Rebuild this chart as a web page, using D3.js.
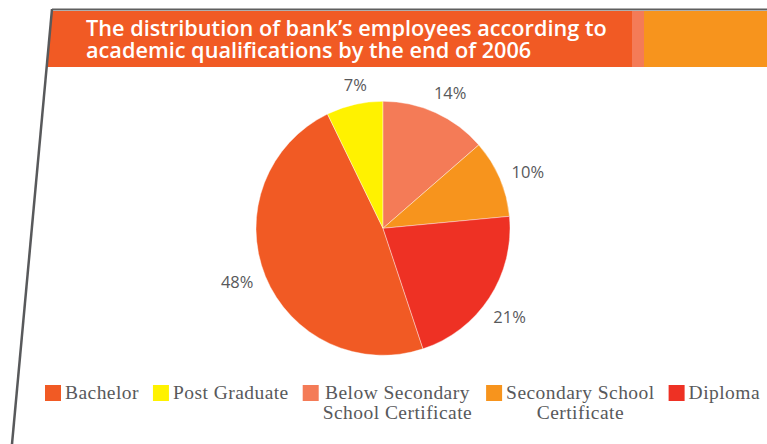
<!DOCTYPE html>
<html lang="en">
<head>
<meta charset="utf-8">
<title>Bank employees by academic qualification</title>
<script src="https://d3js.org/d3.v7.min.js"></script>
<style>
  body { margin: 0; background: #fff; }
  svg { display: block; }
</style>
</head>
<body>
<div id="chart"></div>
<script>
// ---- data (legend order = clockwise order starting at Bachelor) ----
var categories = ["Bachelor", "Post Graduate", "Below Secondary School Certificate", "Secondary School Certificate", "Diploma"];
var legendLines = [["Bachelor"], ["Post Graduate"], ["Below Secondary", "School Certificate"], ["Secondary School", "Certificate"], ["Diploma"]];
var shares = [47.9, 7.2, 13.6, 9.9, 21.4];
var colors = ["#F15A24", "#FFF200", "#F47B57", "#F7941D", "#EE3124"];
var titleLines = ["The distribution of bank\u2019s employees according to", "academic qualifications by the end of 2006"];

var W = 767, H = 444;
var svg = d3.select("#chart").append("svg")
    .attr("width", W)
    .attr("height", H);

// ---- header banner ----
var slope = (52 - 12) / (444 - 9);   // the frame's left edge leans
function edgeX(y) { return 52 - (y - 9) * slope; }

svg.append("polygon")
    .attr("points", [[edgeX(11), 11], [632, 11], [632, 67], [edgeX(67), 67]].join(" "))
    .attr("fill", "#F15A24");
svg.append("rect").attr("x", 632).attr("y", 11).attr("width", 12).attr("height", 56).attr("fill", "#F47B57");
svg.append("rect").attr("x", 644).attr("y", 11).attr("width", W - 644).attr("height", 56).attr("fill", "#F7941D");

// frame lines
svg.append("line")
    .attr("x1", 52).attr("y1", 9.5).attr("x2", W).attr("y2", 9.5)
    .attr("stroke", "#5f5f5f").attr("stroke-width", 2);
svg.append("line")
    .attr("x1", 52).attr("y1", 9).attr("x2", 12).attr("y2", H)
    .attr("stroke", "#58595B").attr("stroke-width", 2.5);

// title text, squeezed horizontally to the banner width
var title = svg.append("g").attr("transform", "translate(86,0)");
var tl = title.selectAll("text")
    .data(titleLines)
  .enter().append("text")
    .attr("x", 0)
    .attr("y", function(d, i) { return 36 + i * 22; })
    .attr("fill", "#fff")
    .style("font-family", "'Open Sans', sans-serif")
    .style("font-weight", 600)
    .style("font-size", "22px")
    .text(function(d) { return d; });
var natural = tl.node().getComputedTextLength();
title.attr("transform", "translate(86,0) scale(" + (521 / natural) + ",1)");

// ---- pie ----
var cx = 383, cy = 228.3, radius = 127;
var total = d3.sum(shares);
var start = -2 * Math.PI * (shares[0] + shares[1]) / total;

var pie = d3.pie()
    .sort(null)
    .value(function(d) { return d; })
    .startAngle(start)
    .endAngle(start + 2 * Math.PI);

var arc = d3.arc().innerRadius(0).outerRadius(radius);

var g = svg.append("g").attr("transform", "translate(" + cx + "," + cy + ")");
var slices = pie(shares);

g.selectAll("path")
    .data(slices)
  .enter().append("path")
    .attr("d", arc)
    .attr("fill", function(d, i) { return colors[i]; })
    .attr("stroke", "#fff")
    .attr("stroke-width", 0.4);

// labels: a touch clockwise of the slice middle, box kept ~11px off the rim
var nudge = 2 * Math.PI / 180, labelGap = 11;
var pct = g.selectAll("text.pct")
    .data(slices)
  .enter().append("text")
    .attr("class", "pct")
    .attr("text-anchor", "middle")
    .attr("dy", "0.36em")
    .attr("fill", "#58595B")
    .style("font-family", "'Open Sans', sans-serif")
    .style("font-size", "16.5px")
    .text(function(d) { return Math.round(d.value) + "%"; });

pct.attr("transform", function(d) {
  var a = (d.startAngle + d.endAngle) / 2 + nudge;
  var w = this.getComputedTextLength(), h = 12;
  var s = Math.sin(a), c = Math.cos(a);
  var dist = radius + labelGap + Math.abs(s) * w / 2 + Math.abs(c) * h / 2;
  return "translate(" + (dist * s) + "," + (-dist * c) + ")";
});

// ---- legend ----
var legendLeft = 45, legendRight = 760, box = 16, pad = 4, boxTop = 385;
var legend = svg.append("g");
var items = legend.selectAll("g.item")
    .data(categories)
  .enter().append("g")
    .attr("class", "item");

items.append("rect")
    .attr("width", box).attr("height", box)
    .attr("y", boxTop)
    .attr("fill", function(d, i) { return colors[i]; });

var labels = items.append("text")
    .attr("fill", "#58595B")
    .style("font-family", "'Liberation Serif', 'Times New Roman', serif")
    .style("font-size", "19.5px")
    .style("letter-spacing", "0.45px");

labels.selectAll("tspan")
    .data(function(d, i) { return legendLines[i]; })
  .enter().append("tspan")
    .attr("x", 0)
    .attr("text-anchor", "middle")
    .attr("y", function(d, j) { return 399 + j * 20; })
    .text(function(d) { return d; });

// widest line of each item, then spread the items across the row
var widths = [];
labels.each(function() {
  var m = 0;
  d3.select(this).selectAll("tspan").each(function() { m = Math.max(m, this.getComputedTextLength()); });
  widths.push(m);
});
var used = d3.sum(widths) + categories.length * (box + pad);
var gap = (legendRight - legendLeft - used) / (categories.length - 1);
var xPos = legendLeft;
items.each(function(d, i) {
  var it = d3.select(this);
  it.select("rect").attr("x", xPos);
  it.selectAll("tspan").attr("x", xPos + box + pad + widths[i] / 2);
  xPos += box + pad + widths[i] + gap;
});
</script>
</body>
</html>
